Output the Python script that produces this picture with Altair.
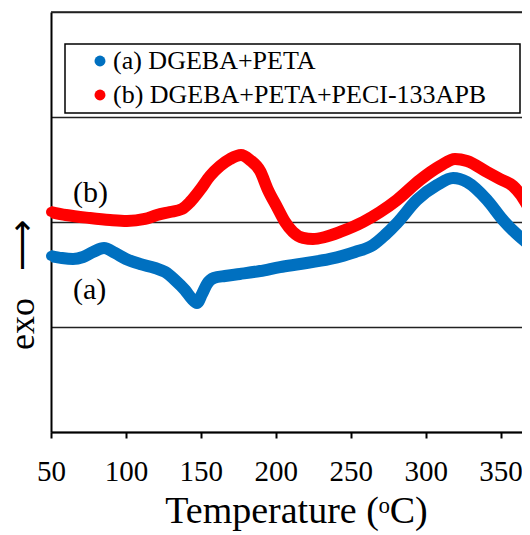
import altair as alt
import pandas as pd

FONT = "Liberation Serif"

series_names = ["(a) DGEBA+PETA", "(b) DGEBA+PETA+PECI-133APB"]
series_colors = ["#0070C0", "#FF0000"]

# (a) DGEBA+PETA
blue_t = [50, 57.3, 64.7, 71.4, 78, 85.4, 92.7, 100, 109.4, 119.4, 126.1, 132.7, 139.4,
          144.1, 147.4, 150.8, 154.1, 158.8, 166.1, 176.1, 189.5, 202.8, 216.2, 236.2,
          252.9, 264.9, 272.9, 280.9, 294.2, 307.6, 318.3, 327.6, 341, 351.6, 363,
          369.7, 374.3]
blue_v = [1.676, 1.657, 1.648, 1.667, 1.714, 1.752, 1.705, 1.648, 1.6, 1.562, 1.524, 1.448,
          1.352, 1.267, 1.229, 1.314, 1.41, 1.467, 1.486, 1.505, 1.533, 1.571, 1.6, 1.648,
          1.714, 1.781, 1.876, 1.99, 2.21, 2.352, 2.419, 2.381, 2.21, 2.019, 1.857,
          1.781, 1.743]

# (b) DGEBA+PETA+PECI-133APB
red_t = [50, 60, 76, 89.4, 100.7, 112.7, 120.7, 129.4, 137.4, 142.8, 149.4, 156.1, 162.8,
         169.5, 176.8, 182.8, 189.5, 194.8, 200.8, 206.2, 211.5, 218.2, 224.8, 232.8,
         242.9, 258.2, 269.6, 280.9, 296.2, 309.6, 319.6, 327.6, 341, 349.6, 358.3,
         363.6, 368.3, 373.7]
red_v = [2.095, 2.067, 2.038, 2.019, 2.01, 2.029, 2.067, 2.095, 2.124, 2.19, 2.305, 2.438,
         2.533, 2.6, 2.638, 2.59, 2.486, 2.305, 2.143, 2.0, 1.905, 1.848, 1.838, 1.857,
         1.905, 2.0, 2.095, 2.21, 2.4, 2.533, 2.6, 2.581, 2.476, 2.41, 2.343,
         2.257, 2.152, 2.067]

ann_labels = ["(b)", "(a)"]
ann_t = [64.7, 64.7]
ann_v = [2.28, 1.35]

x_ticks = [50, 100, 150, 200, 250, 300, 350]
y_grid = [0, 1, 2, 3, 4]
top_line = [4]

blue_df = pd.DataFrame({"t": blue_t, "v": blue_v, "series": series_names[0]})
red_df = pd.DataFrame({"t": red_t, "v": red_v, "series": series_names[1]})
ann_df = pd.DataFrame({"t": ann_t, "v": ann_v, "label": ann_labels})
# legend markers sit under the start of each curve (first data point of each series)
legend_df = pd.DataFrame({"name": series_names, "t": [blue_t[0], red_t[0]], "v": [blue_v[0], red_v[0]]})
top_df = pd.DataFrame({"v": top_line})

NB = "\u00a0"

x_enc = alt.X(
    "t:Q",
    scale=alt.Scale(domain=[50, 364.3], nice=False, zero=False),
    axis=alt.Axis(
        values=x_ticks, grid=False, title="Temperature (ᵒC)",
        labelFont=FONT, labelFontSize=29, labelColor="black", labelPadding=19,
        labelFlush=False, labelOverlap=False,
        tickColor="black", tickWidth=2, tickSize=6,
        domainColor="black", domainWidth=2,
        titleFont=FONT, titleFontSize=38, titleFontWeight="normal", titleColor="black",
        titleX=245, titleY=90, titleAlign="center", titleBaseline="alphabetic",
    ),
)
y_enc = alt.Y(
    "v:Q",
    scale=alt.Scale(domain=[0, 4], nice=False, zero=False),
    axis=alt.Axis(
        values=y_grid, labels=False, ticks=False, grid=True,
        gridColor="#222222", gridWidth=1.6, gridOpacity=1,
        domainColor="black", domainWidth=2,
        title="exo" + NB * 3 + "⟶",
        titleFont=FONT, titleFontSize=36, titleFontWeight="normal", titleColor="black",
        titleAngle=270, titleX=-18, titleY=272, titleAlign="center",
        titleBaseline="alphabetic",
    ),
)
stroke_enc = alt.Stroke(
    "series:N", scale=alt.Scale(domain=series_names, range=series_colors), legend=None
)
fill_enc = alt.Fill(
    "name:N",
    scale=alt.Scale(domain=series_names, range=series_colors),
    legend=alt.Legend(
        title=None, orient="none", legendX=14, legendY=32,
        padding=4, rowPadding=8, symbolOffset=18, labelOffset=0,
        labelFont=FONT, labelFontSize=26, labelColor="black", labelLimit=800,
        symbolType="circle", symbolSize=120, symbolStrokeWidth=0, symbolOpacity=1,
    ),
)

# frame of the legend box
legend_frame = alt.Chart(top_df).mark_rect(
    fill="white", stroke="black", strokeWidth=1.5
).encode(x=alt.value(14), x2=alt.value(469), y=alt.value(32), y2=alt.value(101))

top_rule = alt.Chart(top_df).mark_rule(color="#222222", strokeWidth=1.6).encode(y=alt.Y("v:Q"))

legend_layer = alt.Chart(legend_df).mark_circle(opacity=1, size=100).encode(
    x=alt.X("t:Q"), y=alt.Y("v:Q"), fill=fill_enc
)

red_line = alt.Chart(red_df).mark_line(
    strokeWidth=12, strokeCap="round", strokeJoin="round", interpolate="monotone", clip=True
).encode(x=x_enc, y=y_enc, stroke=stroke_enc)

blue_line = alt.Chart(blue_df).mark_line(
    strokeWidth=12, strokeCap="round", strokeJoin="round", interpolate="monotone", clip=True
).encode(x=x_enc, y=y_enc, stroke=stroke_enc)

ann = alt.Chart(ann_df).mark_text(
    font=FONT, fontSize=30, color="black", align="left", baseline="middle"
).encode(x=alt.X("t:Q"), y=alt.Y("v:Q"), text="label:N")

chart = alt.layer(top_rule, legend_frame, legend_layer, red_line, blue_line, ann).properties(
    width=471, height=420,
    autosize=alt.AutoSizeParams(type="none"),
    padding={"left": 43, "top": 4, "right": 0, "bottom": 102},
).configure_view(strokeWidth=0)

chart.save("out.html", embed_options={"renderer": "svg", "actions": False})
